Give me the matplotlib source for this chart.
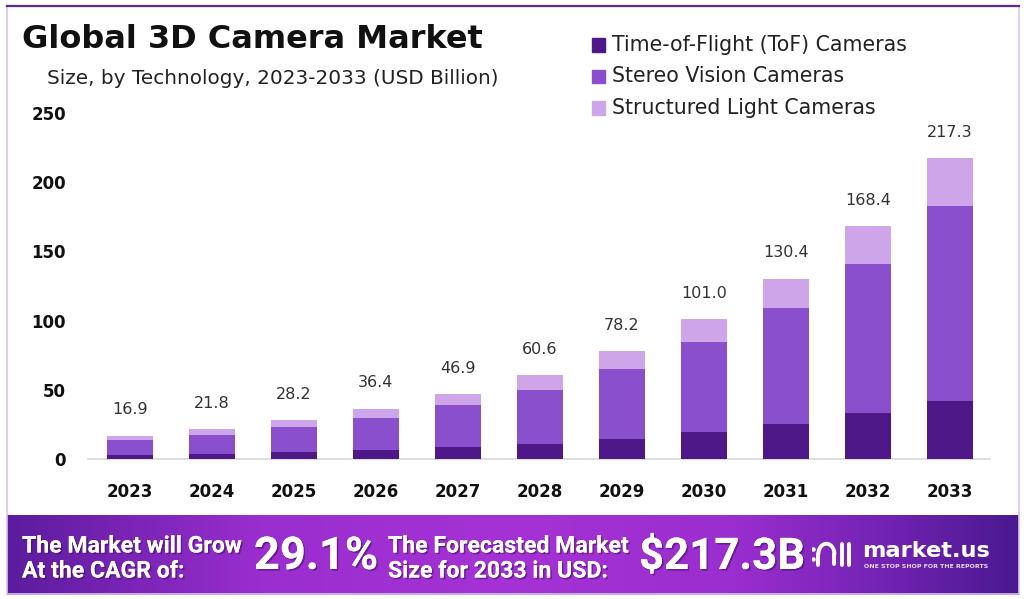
import matplotlib
matplotlib.use('Agg')
import matplotlib.pyplot as plt
import matplotlib.patheffects as pe
import numpy as np
from matplotlib.colors import LinearSegmentedColormap
from matplotlib.patches import Rectangle

plt.rcParams['font.family'] = ['DejaVu Sans']

years = ['2023', '2024', '2025', '2026', '2027', '2028', '2029', '2030', '2031', '2032', '2033']
tof = [2.9, 3.3, 5.3, 6.2, 8.4, 11.0, 14.6, 19.5, 25.2, 32.9, 42.0]
stereo = [10.5, 14.4, 18.0, 23.6, 30.5, 39.0, 50.7, 64.8, 83.6, 108.0, 140.5]
totals = [16.9, 21.8, 28.2, 36.4, 46.9, 60.6, 78.2, 101.0, 130.4, 168.4, 217.3]
structured = [round(t - a - b, 1) for t, a, b in zip(totals, tof, stereo)]
series_names = ['Time-of-Flight (ToF) Cameras', 'Stereo Vision Cameras', 'Structured Light Cameras']
colors = ['#4f1888', '#8a4fcc', '#cfa5ea']

fig = plt.figure(figsize=(10.24, 5.99), dpi=100)
W, H = 1024, 599

def fx(px):
    return px / W

def fy(py):
    return 1 - py / H

# outer frame
fig.patches.append(Rectangle((fx(7), fy(594)), fx(1019) - fx(7), fy(6) - fy(594),
                             transform=fig.transFigure, fill=False,
                             edgecolor='#d9c3ee', lw=1.2, zorder=0))
fig.add_artist(plt.Line2D([fx(7), fx(1019)], [fy(6), fy(6)], transform=fig.transFigure,
                          color='#5b2a93', lw=1.6))

# main axes
ax = fig.add_axes([fx(88), fy(459), fx(990) - fx(88), fy(113) - fy(459)])
x = np.arange(len(years))
bw = 0.56
bottom = np.zeros(len(years))
for vals, c in zip([tof, stereo, structured], colors):
    ax.bar(x, vals, bw, bottom=bottom, color=c, edgecolor='none', zorder=3)
    bottom += np.array(vals)

for xi, t in zip(x, totals):
    ax.annotate(f'{t:.1f}', (xi, t), xytext=(0, 18.5), textcoords='offset points',
                ha='center', va='center', fontsize=11.5, color='#333333')

ax.set_xlim(-0.51, 10.49)
ax.set_ylim(0, 250)
ax.set_yticks([0, 50, 100, 150, 200, 250])
ax.set_xticks(x)
ax.set_xticklabels(years)
for s in ['top', 'right', 'left']:
    ax.spines[s].set_visible(False)
ax.spines['bottom'].set_color('#d8d8d8')
ax.spines['bottom'].set_linewidth(1.2)
ax.tick_params(axis='both', length=0, labelsize=12, colors='#111111')
ax.tick_params(axis='y', pad=16)
ax.tick_params(axis='x', pad=17)
for lab in ax.get_xticklabels() + ax.get_yticklabels():
    lab.set_fontweight('bold')

# titles
fig.text(fx(22), fy(40), 'Global 3D Camera Market', fontsize=23, fontweight='bold',
         color='#111111', va='center', ha='left')
fig.text(fx(47), fy(78), 'Size, by Technology, 2023-2033 (USD Billion)', fontsize=14.4,
         color='#222222', va='center', ha='left')

# legend
for i, (name, c) in enumerate(zip(series_names, colors)):
    yy = 45 + i * 31.5
    fig.patches.append(Rectangle((fx(592), fy(yy + 6.5)), fx(13), fy(0) - fy(13),
                                 transform=fig.transFigure, color=c))
    fig.text(fx(612), fy(yy), name, fontsize=14.8, color='#222222', va='center', ha='left')

# bottom banner
bax = fig.add_axes([fx(7), fy(595), fx(1019) - fx(7), fy(515) - fy(595)])
cmap = LinearSegmentedColormap.from_list('band', [(0.0, '#5c1c9e'), (0.25, '#9a2ecf'),
                                                 (0.5, '#a532d4'), (0.72, '#9a2ecf'),
                                                 (0.88, '#6f22b0'), (1.0, '#4a1990')])
grad = np.linspace(0, 1, 256).reshape(1, -1)
bax.imshow(grad, aspect='auto', cmap=cmap, extent=[0, 1, 0, 1])
bax.set_xlim(0, 1)
bax.set_ylim(0, 1)
bax.axis('off')

shadow = [pe.withSimplePatchShadow(offset=(1.2, -1.2), shadow_rgbFace='#3a0a60', alpha=0.5),
          pe.Normal()]
ban = ['Roboto', 'DejaVu Sans']
for px, py, s in [(22, 546, 'The Market will Grow'), (22, 571, 'At the CAGR of:'),
                  (388, 546, 'The Forecasted Market'), (388, 571, 'Size for 2033 in USD:')]:
    fig.text(fx(px), fy(py), s, fontsize=16.6, fontweight='bold', color='white',
             va='center', family=ban, path_effects=shadow)
fig.text(fx(254), fy(557), '29.1%', fontsize=32.5, fontweight='bold',
         color='white', va='center', family=ban, path_effects=shadow)
fig.text(fx(639), fy(557), '$217.3B', fontsize=31.5, fontweight='bold',
         color='white', va='center', family=ban, path_effects=shadow)

# logo mark
lax = fig.add_axes([fx(812), fy(570), fx(40), fy(538) - fy(570)])
lax.set_xlim(0, 10)
lax.set_ylim(0, 10)
lax.axis('off')
t = np.linspace(0, np.pi, 30)
lw = 2.8
lax.plot(3.6 + 2.0 * np.cos(t), 5 + 3.2 * np.sin(t), color='white', lw=lw, solid_capstyle='round')
lax.plot([1.6, 1.6], [5, 1.5], color='white', lw=lw, solid_capstyle='round')
lax.plot([5.6, 5.6], [5, 2.0], color='white', lw=lw, solid_capstyle='round')
lax.plot([7.4, 7.4], [8.0, 1.5], color='white', lw=lw, solid_capstyle='round')
lax.plot([9.2, 9.2], [8.0, 1.5], color='white', lw=lw, solid_capstyle='round')
lax.plot([0.2, 0.2], [6.5, 3.5], 'o', color='white', ms=2.2)

fig.text(fx(862), fy(551), 'market.us', fontsize=16.2, fontweight='bold',
         color='white', va='center', ha='left')
fig.text(fx(864), fy(567), 'ONE STOP SHOP FOR THE REPORTS', fontsize=4.5, fontweight='bold',
         color='#e8d8f5', va='center', ha='left')

fig.savefig('out.png', dpi=100)
